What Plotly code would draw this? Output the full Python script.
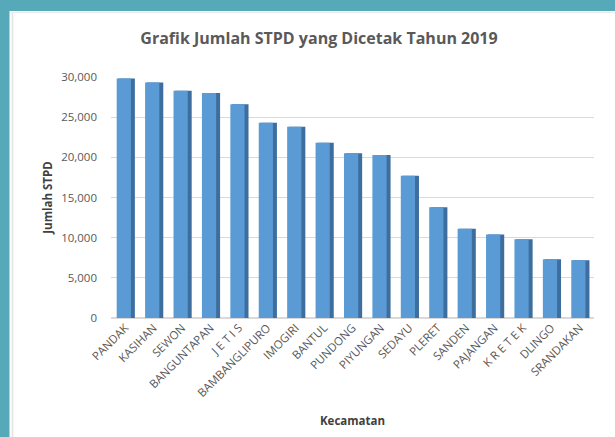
import plotly.graph_objects as go

kecamatan = ["PANDAK", "KASIHAN", "SEWON", "BANGUNTAPAN", "J E T I S", "BAMBANGLIPURO",
             "IMOGIRI", "BANTUL", "PUNDONG", "PIYUNGAN", "SEDAYU", "PLERET", "SANDEN",
             "PAJANGAN", "K R E T E K", "DLINGO", "SRANDAKAN"]
jumlah_stpd = [29800, 29300, 28300, 28000, 26600, 24300, 23800, 21800, 20500, 20300,
               17700, 13800, 11100, 10400, 9800, 7300, 7200]
y_ticks = [0, 5000, 10000, 15000, 20000, 25000, 30000]

W, H = 615, 437
L, R, T, B = 111, 21, 77, 119
pw, ph = W - L - R, H - T - B

def px(p):
    return (p - L) / pw

def py(q):
    return (H - B - q) / ph

fig = go.Figure()
# side/depth (darker) face
fig.add_trace(go.Bar(x=kecamatan, y=jumlah_stpd, width=0.58, offset=-0.24,
                     marker=dict(color="#3d6e9e", line=dict(width=0)),
                     hoverinfo="skip", showlegend=False))
# front face
fig.add_trace(go.Bar(x=kecamatan, y=jumlah_stpd, width=0.5, offset=-0.3,
                     marker=dict(color="#5b9bd5", line=dict(width=0)),
                     showlegend=False))

teal = "#56a9b8"
fig.update_layout(
    width=W, height=H,
    margin=dict(l=L, r=R, t=T, b=B),
    paper_bgcolor="white", plot_bgcolor="white",
    barmode="overlay",
    font=dict(family="Open Sans, sans-serif", color="#595959", size=10),
    title=dict(text="<b>Grafik Jumlah STPD yang Dicetak Tahun 2019</b>",
               x=319 / W, xanchor="center", y=1 - 38 / H, yanchor="middle",
               font=dict(size=16, color="#595959")),
    xaxis=dict(tickangle=-45, showgrid=False, showline=False, ticks="",
               tickfont=dict(size=11.5, color="#595959"),
               title=dict(text="<b>Kecamatan</b>", font=dict(size=11.5, color="#404040"),
                          standoff=18)),
    yaxis=dict(range=[0, 30000], tickvals=y_ticks, tickformat=",",
               showgrid=True, gridcolor="#d9d9d9", gridwidth=1,
               zeroline=True, zerolinecolor="#d9d9d9", showline=False,
               ticks="", ticklabelstandoff=13,
               tickfont=dict(size=11.5, color="#595959"),
               title=dict(text="<b>Jumlah STPD</b>", font=dict(size=11.5, color="#404040"),
                          standoff=6)),
    shapes=[
        dict(type="rect", xref="paper", yref="paper", x0=px(0), x1=px(9.5),
             y0=py(H), y1=py(0), fillcolor=teal, line=dict(width=0), layer="above"),
        dict(type="rect", xref="paper", yref="paper", x0=px(0), x1=px(W),
             y0=py(11), y1=py(0), fillcolor=teal, line=dict(width=0), layer="above"),
        dict(type="line", xref="paper", yref="paper", x0=px(12.5), x1=px(12.5),
             y0=py(H), y1=py(13), line=dict(color="#e2e2e2", width=1.5), layer="above"),
        dict(type="line", xref="paper", yref="paper", x0=px(11), x1=px(W),
             y0=py(12.5), y1=py(12.5), line=dict(color="#ececec", width=1.5), layer="above"),
    ],
)

fig.write_html("out.html")
